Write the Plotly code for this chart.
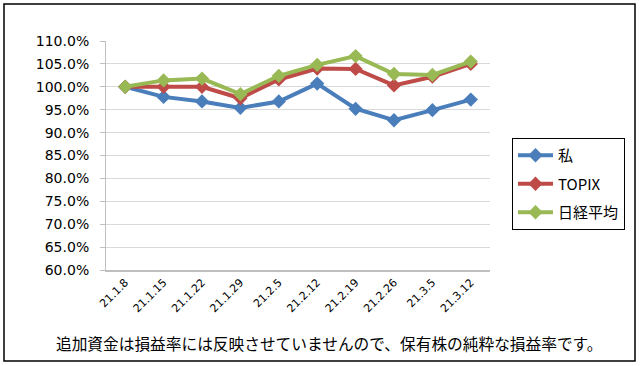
import plotly.graph_objects as go

dates = ["21.1.8", "21.1.15", "21.1.22", "21.1.29", "21.2.5", "21.2.12",
         "21.2.19", "21.2.26", "21.3.5", "21.3.12"]
watashi = [100.0, 97.8, 96.8, 95.4, 96.8, 100.7, 95.2, 92.7, 94.9, 97.2]
topix = [100.0, 100.0, 100.0, 97.5, 101.6, 104.0, 103.9, 100.3, 102.2, 105.0]
nikkei = [100.0, 101.4, 101.8, 98.4, 102.4, 104.8, 106.7, 102.8, 102.6, 105.5]
series_names = ["私", "TOPIX", "日経平均"]
y_ticks = [60, 65, 70, 75, 80, 85, 90, 95, 100, 105, 110]
y_tick_labels = ["60.0%", "65.0%", "70.0%", "75.0%", "80.0%", "85.0%",
                 "90.0%", "95.0%", "100.0%", "105.0%", "110.0%"]
caption = "追加資金は損益率には反映させていませんので、保有株の純粋な損益率です。"

colors = ["#4A7EBB", "#BE4B48", "#98B954"]

fig = go.Figure()
for i, (name, vals, col) in enumerate(zip(series_names, [watashi, topix, nikkei], colors)):
    fig.add_trace(go.Scatter(
        x=dates, y=vals, name=name, mode="lines+markers",
        line=dict(color=col, width=4),
        marker=dict(symbol="diamond", size=11, color=col),
        legendgroup=f"g{i}",
    ))

L, R, T, B = 106, 150, 41, 96
W, H = 640, 366
pw, ph = W - L - R, H - T - B

def px(x):
    return (x - L) / pw

def py(y):
    return (H - B - y) / ph

fig.update_layout(
    width=W, height=H,
    margin=dict(l=L, r=R, t=T, b=B),
    paper_bgcolor="white", plot_bgcolor="white",
    font=dict(family="DejaVu Sans", color="#000000"),
    legend=dict(
        x=px(512), y=py(138), xanchor="left", yanchor="top",
        bordercolor="#000000", borderwidth=1,
        font=dict(family="Noto Sans CJK JP", size=15),
        tracegroupgap=6, traceorder="grouped",
        itemwidth=35,
    ),
    shapes=[dict(type="rect", xref="paper", yref="paper",
                 x0=px(4), x1=px(635), y0=py(361), y1=py(4),
                 line=dict(color="#000000", width=1.5))],
    annotations=[dict(text=caption, xref="paper", yref="paper",
                      x=px(329), y=py(343), xanchor="center", yanchor="middle",
                      showarrow=False,
                      font=dict(family="Noto Sans CJK JP", size=15.7, color="#000000"))],
)

fig.update_yaxes(
    range=[60, 110], tickvals=y_ticks, ticktext=y_tick_labels,
    showgrid=True, gridcolor="#D9D9D9", gridwidth=1,
    showline=True, linecolor="#BFBFBF", linewidth=1,
    ticks="outside", ticklen=5, tickcolor="#BFBFBF",
    ticklabelstandoff=8,
    tickfont=dict(family="DejaVu Sans", size=14, color="#000000"),
    zeroline=False,
)
fig.update_xaxes(
    type="category", range=[-0.5, 9.5],
    showgrid=False, showline=True, linecolor="#BFBFBF", linewidth=1.5,
    tickangle=-45,
    tickfont=dict(family="DejaVu Sans", size=11, color="#000000"),
)

fig.write_html("out.html", config={"displayModeBar": False},
               post_script="document.body.style.margin='0';")
